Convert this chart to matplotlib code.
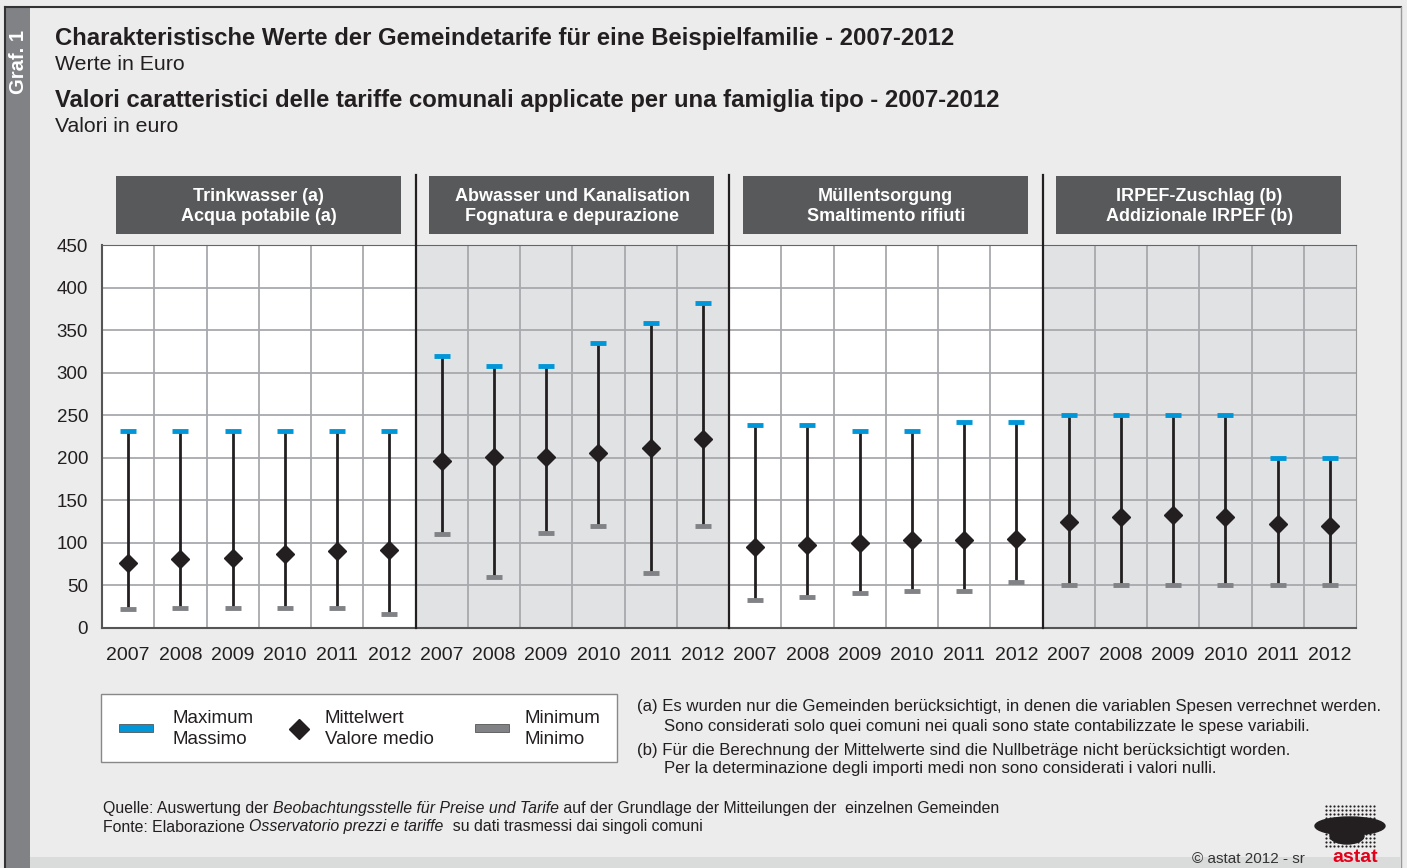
import matplotlib
matplotlib.use('Agg')
import matplotlib.pyplot as plt
from matplotlib.patches import Rectangle, Ellipse
import numpy as np

matplotlib.rcParams['font.family'] = ['Liberation Sans', 'DejaVu Sans']

W, H = 1407, 868

# data
years = ['2007', '2008', '2009', '2010', '2011', '2012']
sections = ['Trinkwasser (a)\nAcqua potabile (a)',
            'Abwasser und Kanalisation\nFognatura e depurazione',
            'Müllentsorgung\nSmaltimento rifiuti',
            'IRPEF-Zuschlag (b)\nAddizionale IRPEF (b)']

max_trink = [232, 232, 232, 232, 232, 232]
mean_trink = [76, 81, 82, 87, 91, 92]
min_trink = [22, 23.5, 23.5, 23.5, 23.5, 17]

max_abw = [320, 308, 308, 335, 358, 382]
mean_abw = [196, 201, 201, 206, 211, 222]
min_abw = [110, 60, 112, 120, 65, 120]

max_muell = [238, 238, 231, 231, 242, 242]
mean_muell = [95, 97, 100, 103, 103, 105]
min_muell = [33, 36, 41, 43, 43, 54]

max_irpef = [250, 250, 250, 250, 200, 200]
mean_irpef = [125, 130, 133, 130, 122, 120]
min_irpef = [50, 50, 50, 50, 50, 50]

maxima = max_trink + max_abw + max_muell + max_irpef
means = mean_trink + mean_abw + mean_muell + mean_irpef
minima = min_trink + min_abw + min_muell + min_irpef

BLUE = '#0096d8'
GREY_MIN = '#808285'
BLACK = '#231f20'
BG = '#ebeceb'
SHADE = '#e1e2e4'
HEAD = '#58595b'
GRID = '#a7a9ac'


def px(x, y):
    return x / W, 1 - y / H


fig = plt.figure(figsize=(W / 100, H / 100), dpi=100)
fig.patch.set_facecolor(BG)

# frame, left strip and bottom strip
fig.patches.append(Rectangle(px(30, 868), (1400 - 30) / W, 11 / H, transform=fig.transFigure,
                             facecolor='#dadbdb', edgecolor='none'))
fig.patches.append(Rectangle(px(5, 868), 25 / W, (868 - 7) / H, transform=fig.transFigure,
                             facecolor='#808285', edgecolor='none'))
fig.add_artist(plt.Line2D([5 / W, 5 / W], [0, 1 - 7 / H], color='#333333', lw=1.5))
fig.add_artist(plt.Line2D([5 / W, 1401 / W], [1 - 7 / H, 1 - 7 / H], color='#333333', lw=1.5))
fig.add_artist(plt.Line2D([1401 / W, 1401 / W], [0, 1 - 7 / H], color='#999999', lw=1))
fig.text(*px(18, 62), 'Graf. 1', rotation=90, color='white', fontsize=14.5,
         fontweight='bold', ha='center', va='center')

# titles
fig.text(*px(55, 38), 'Charakteristische Werte der Gemeindetarife für eine Beispielfamilie - 2007-2012',
         fontsize=17.2, fontweight='bold', color=BLACK, va='center')
fig.text(*px(55, 64), 'Werte in Euro', fontsize=15.3, color=BLACK, va='center')
fig.text(*px(55, 100), 'Valori caratteristici delle tariffe comunali applicate per una famiglia tipo - 2007-2012',
         fontsize=17.2, fontweight='bold', color=BLACK, va='center')
fig.text(*px(55, 126), 'Valori in euro', fontsize=15.3, color=BLACK, va='center')

# main axes
ax = fig.add_axes([102 / W, (868 - 628) / H, 1254 / W, 383 / H])
n = len(maxima)
xs = np.arange(n) + 0.5
ax.set_xlim(0, n)
ax.set_ylim(0, 450)
ax.set_facecolor('white')

for k in range(len(sections)):
    if k % 2 == 1:
        ax.axvspan(k * 6, k * 6 + 6, color=SHADE, zorder=0, lw=0)

for yv in range(50, 450, 50):
    ax.axhline(yv, color=GRID, lw=1.3, zorder=1)
for xv in range(1, n):
    if xv % 6:
        ax.axvline(xv, color=GRID, lw=1.3, zorder=1)

for s in ['top', 'right']:
    ax.spines[s].set_color('#999999')
for s in ['left', 'bottom']:
    ax.spines[s].set_color('#555555')
    ax.spines[s].set_linewidth(1.5)
ax.spines['top'].set_color('#666666')

ax.vlines(xs, minima, maxima, color=BLACK, lw=2, zorder=3)
ax.plot(xs, maxima, ls='none', marker='_', ms=12, mew=3.5, color=BLUE, zorder=4)
ax.plot(xs, minima, ls='none', marker='_', ms=12, mew=3.5, color=GREY_MIN, zorder=4)
ax.plot(xs, means, ls='none', marker='D', ms=9, color=BLACK, zorder=5)

# section dividers and headers
top_frac = (628 - 175) / 383
for k in range(1, len(sections)):
    ax.axvline(k * 6, ymin=0, ymax=top_frac, color=BLACK, lw=1.6, clip_on=False, zorder=6)
hb0 = (628 - 234) / 383
hb1 = (628 - 176) / 383
for k, name in enumerate(sections):
    ax.add_patch(Rectangle((k * 6 + 0.26, hb0), 6 - 0.54, hb1 - hb0,
                           transform=ax.get_xaxis_transform(), facecolor=HEAD,
                           edgecolor='none', clip_on=False))
    ax.text(k * 6 + 3, (hb0 + hb1) / 2 - 0.003, name, transform=ax.get_xaxis_transform(),
            ha='center', va='center', color='white', fontsize=13, fontweight='bold',
            linespacing=1.25)

ax.set_xticks(xs)
ax.set_xticklabels(years * len(sections), fontsize=14, color=BLACK)
ax.set_yticks(range(0, 451, 50))
ax.tick_params(axis='y', labelsize=13.5, colors=BLACK, length=0, pad=10)
ax.tick_params(axis='x', length=0, pad=14)

# legend box
fig.patches.append(Rectangle(px(101, 762), (617 - 101) / W, (762 - 694) / H,
                             transform=fig.transFigure, facecolor='white',
                             edgecolor='#888888', lw=1))
fig.patches.append(Rectangle(px(119, 732), 34 / W, 8 / H, transform=fig.transFigure,
                             facecolor=BLUE, edgecolor='#555555', lw=0.6))
fig.patches.append(Rectangle(px(475, 732), 34 / W, 8 / H, transform=fig.transFigure,
                             facecolor=GREY_MIN, edgecolor='#555555', lw=0.6))
fig.add_artist(plt.Line2D([299 / W], [1 - 729 / H], marker='D', ms=10, color=BLACK,
                          transform=fig.transFigure))
for xx, txt in [(172, 'Maximum\nMassimo'), (325, 'Mittelwert\nValore medio'),
                (525, 'Minimum\nMinimo')]:
    fig.text(*px(xx, 729), txt, fontsize=13.5, color=BLACK, va='center', linespacing=1.3)

# footnotes
notes = [(637, 707, '(a) Es wurden nur die Gemeinden berücksichtigt, in denen die variablen Spesen verrechnet werden.'),
         (664, 726, 'Sono considerati solo quei comuni nei quali sono state contabilizzate le spese variabili.'),
         (637, 750, '(b) Für die Berechnung der Mittelwerte sind die Nullbeträge nicht berücksichtigt worden.'),
         (664, 769, 'Per la determinazione degli importi medi non sono considerati i valori nulli.')]
for xx, yy, txt in notes:
    fig.text(*px(xx, yy), txt, fontsize=12.1, color=BLACK, va='center')

# source lines with italic parts
renderer = fig.canvas.get_renderer()
src = [(808, [('Quelle: Auswertung der ', 'normal'),
              ('Beobachtungsstelle für Preise und Tarife', 'italic'),
              (' auf der Grundlage der Mitteilungen der  einzelnen Gemeinden', 'normal')]),
       (827, [('Fonte: Elaborazione ', 'normal'),
              ('Osservatorio prezzi e tariffe', 'italic'),
              ('  su dati trasmessi dai singoli comuni', 'normal')])]
for yy, parts in src:
    x0 = 103
    for txt, style in parts:
        t = fig.text(*px(x0, yy), txt, fontsize=11.4, style=style, color=BLACK,
                     va='center')
        bb = t.get_window_extent(renderer)
        x0 += bb.width

fig.text(*px(1305, 859), '© astat 2012 - sr', fontsize=11, color='#333333',
         ha='right', va='center')
fig.text(*px(1378, 858), 'astat', fontsize=14, color='#e2001a', fontweight='bold',
         ha='right', va='center')

# logo dots
lx, ly = np.meshgrid(np.arange(1326, 1377, 4), np.arange(806, 848, 4))
ax_logo = fig.add_axes([0, 0, 1, 1], facecolor='none')
ax_logo.set_xlim(0, W)
ax_logo.set_ylim(H, 0)
ax_logo.axis('off')
ax_logo.scatter(lx.ravel(), ly.ravel(), s=2.5, color=BLACK, lw=0)
ax_logo.add_patch(Ellipse((1350, 826), 70, 18, color=BLACK))
ax_logo.add_patch(Ellipse((1347, 836), 34, 16, color=BLACK))

fig.savefig('out.png', dpi=100, facecolor=fig.get_facecolor())
